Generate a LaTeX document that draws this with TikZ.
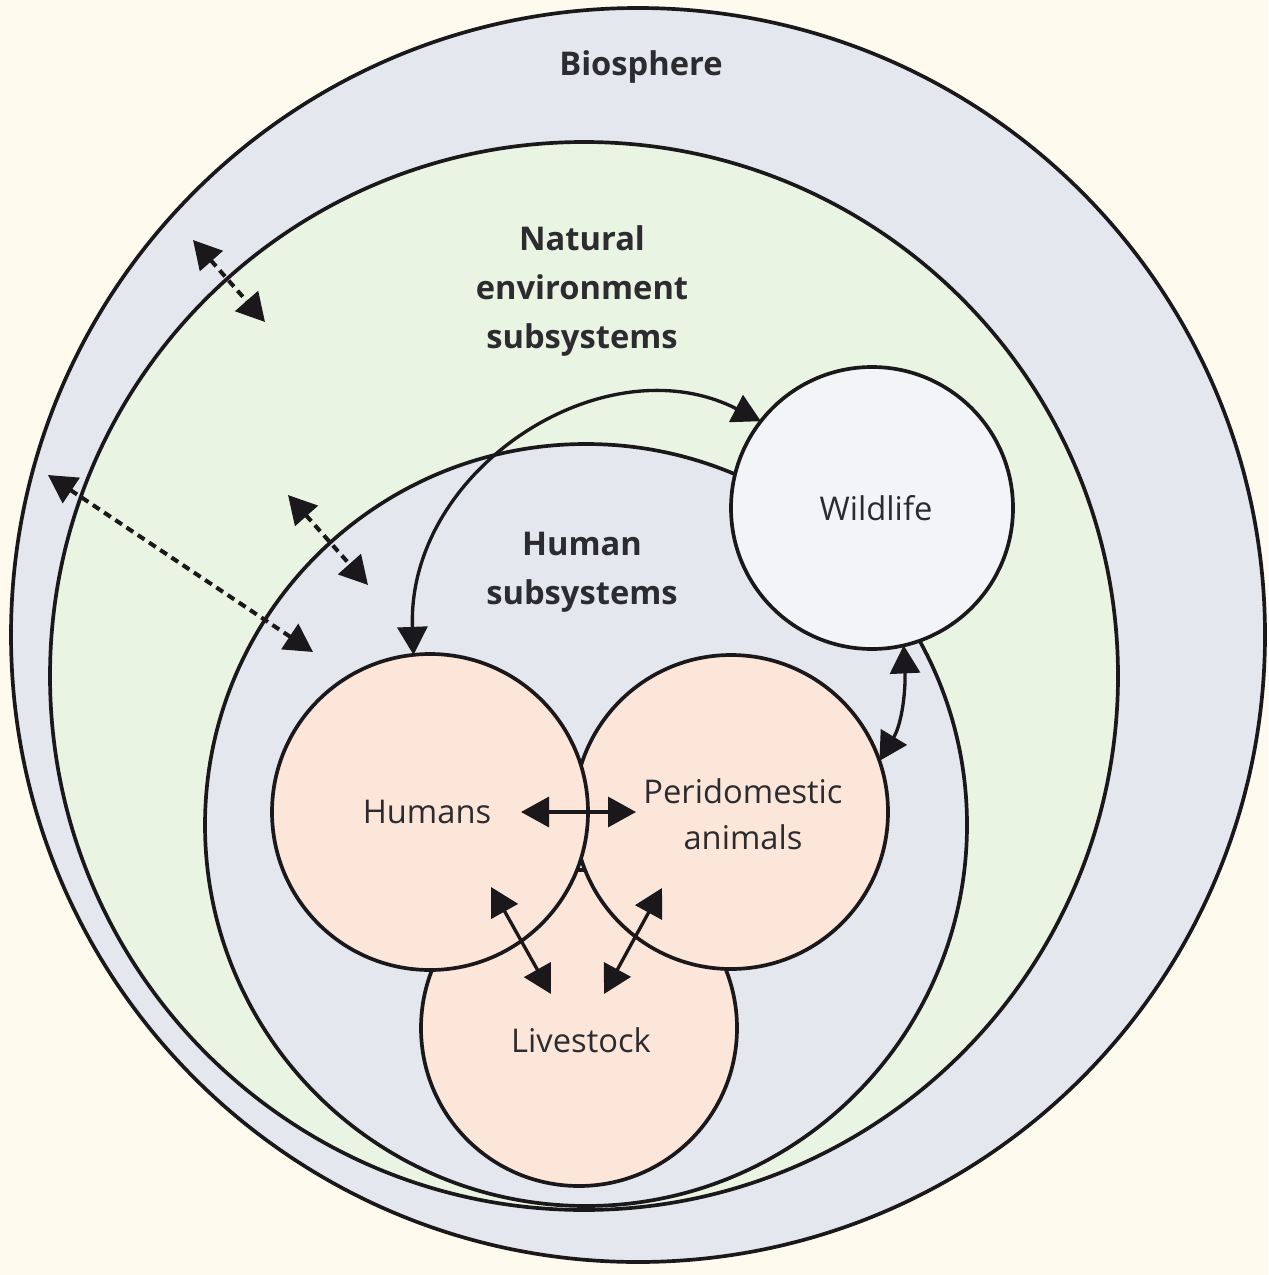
\documentclass[tikz,border=0pt]{standalone}
\usepackage{fontspec}
\setmainfont{Open Sans}
\usetikzlibrary{arrows.meta}

\definecolor{cream}{RGB}{255,250,238}
\definecolor{biogray}{RGB}{228,232,238}
\definecolor{natgreen}{RGB}{233,244,226}
\definecolor{wildfill}{RGB}{243,244,247}
\definecolor{peach}{RGB}{252,229,217}
\definecolor{ink}{RGB}{26,24,26}
\definecolor{labelgray}{RGB}{44,44,48}

\begin{document}
\begin{tikzpicture}[x=0.1mm,y=-0.1mm,
  zone/.style={circle, draw=ink, line width=1.05pt, inner sep=0pt, outer sep=0pt},
  twoway/.style={{Triangle[length=2.8mm,width=3mm]}-{Triangle[length=2.8mm,width=3mm]},
                 draw=ink, fill=none, line width=0.95pt},
  flux/.style={twoway, line width=1.15pt, dash pattern=on 0.8mm off 0.55mm},
  region/.style={font=\fontsize{9.3}{13.9}\selectfont\bfseries, text=labelgray, align=center, inner sep=0pt},
  member/.style={font=\fontsize{9.3}{13}\selectfont, text=labelgray, align=center, inner sep=0pt}]

  % page background and bounding box
  \fill[cream] (0,0) rectangle (1268,1275);
  \useasboundingbox (0,0) rectangle (1268,1275);

  % nested systems
  \node[zone, fill=biogray,  minimum size=125.4mm] (bio) at (638,635) {};
  \node[zone, fill=natgreen, minimum size=106.8mm] (nat) at (584,676) {};
  \node[zone, fill=biogray,  minimum size=76.2mm]  (hum) at (586,825) {};

  % wildlife and the three domestic groups
  \node[zone, fill=wildfill, minimum size=28.2mm] (wildlife) at (872,508) {};
  \node[zone, fill=peach, minimum size=31.6mm] (livestock) at (579,1028) {};
  \node[zone, fill=peach, minimum size=31.4mm] (peri) at (731,812) {};
  \node[zone, fill=peach, minimum size=31.6mm] (humans) at (430,812) {};

  % labels
  \node[region] (biolabel) at (641,67) {Biosphere};
  \node[region] (natlabel) at (582,291) {Natural\\environment\\subsystems};
  \node[region] (humlabel) at (582,572) {Human\\subsystems};
  \node[member] (wildlabel) at (876,508) {Wildlife};
  \node[member] (humanslabel) at (427,812) {Humans};
  \node[member] (perilabel) at (743,814) {Peridomestic\\animals};
  \node[member] (livelabel) at (581,1040) {Livestock};

  % exchanges between humans and wildlife
  \draw[twoway] (humans.96) .. controls +(-7,-185) and +(-157,-80) .. (wildlife.142);
  \draw[twoway] (wildlife.-77) .. controls +(2,43) and +(23,-38) .. (peri.19);

  % exchanges among the domestic groups
  \coordinate (hpL) at (521,812);
  \coordinate (hpR) at (636,812);
  \coordinate (hlA) at (491,887);
  \coordinate (hlB) at (551,994);
  \coordinate (plA) at (662,888);
  \coordinate (plB) at (604,994);
  \draw[twoway] (hpL) -- (hpR);
  \draw[twoway] (hlA) -- (hlB);
  \draw[twoway] (plA) -- (plB);

  % flows across system boundaries
  \coordinate (fa1) at (193,240);
  \coordinate (fa2) at (265,322);
  \coordinate (fb1) at (48,475);
  \coordinate (fb2) at (313,652);
  \coordinate (fc1) at (288,495);
  \coordinate (fc2) at (368,585);
  \draw[flux] (fa1) -- (fa2);
  \draw[flux] (fb1) -- (fb2);
  \draw[flux] (fc1) -- (fc2);
\end{tikzpicture}
\end{document}
